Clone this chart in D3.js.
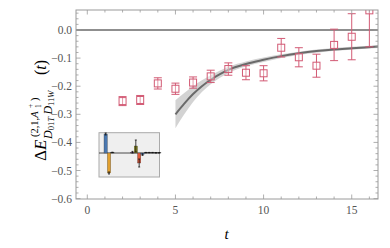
<!DOCTYPE html>
<html>
<head>
<meta charset="utf-8">
<script src="https://cdn.jsdelivr.net/npm/d3@7"></script>
<style>
  body { margin: 0; background: #fff; }
  text { font-family: "Liberation Serif", "DejaVu Serif", serif; }
</style>
</head>
<body>
<svg id="svg_main" width="390" height="248"></svg>
<script>

// Data
const t_vals = [2, 3, 4, 5, 6, 7, 8, 9, 10, 11, 12, 13, 14, 15, 16];
const de_vals = [-0.253, -0.249, -0.19, -0.209, -0.187, -0.165, -0.139, -0.152, -0.154, -0.063, -0.097, -0.127, -0.053, -0.024, 0.07];
const de_errs = [0.016, 0.016, 0.02, 0.02, 0.02, 0.022, 0.022, 0.025, 0.027, 0.033, 0.034, 0.041, 0.056, 0.082, 0.13];

// Fit curve + band
const fit_t = [5, 5.5, 6, 6.5, 7, 7.5, 8, 9, 10, 11, 12, 13, 14, 15, 16.5];
const fit_mid = [-0.30, -0.262, -0.228, -0.2, -0.177, -0.158, -0.142, -0.121, -0.106, -0.093, -0.083, -0.075, -0.069, -0.065, -0.059];
const fit_err = [0.05, 0.038, 0.028, 0.021, 0.016, 0.013, 0.011, 0.009, 0.008, 0.007, 0.006, 0.006, 0.005, 0.005, 0.005];

// Inset: overlap bars
const inset_vals = [0.95, -1.0, 0.03, 0, 0, 0, 0, 0, 0.04, 0.35, -0.5, -0.08, 0.02, 0.02, 0.02, 0.01, 0.01];
const inset_errs = [0.05, 0.05, 0.01, 0, 0, 0, 0, 0, 0.04, 0.3, 0.2, 0.04, 0.01, 0.01, 0.01, 0.01, 0.01];
const inset_cols = ["#4a78b0", "#e2a02e", "#222", "#222", "#222", "#222", "#222", "#222", "#8a4aa0", "#8c8a1e", "#e0583a", "#4a78b0", "#222", "#222", "#222", "#222", "#222"];

const x_ticks = [0, 5, 10, 15];
const y_ticks = [0.0, -0.1, -0.2, -0.3, -0.4, -0.5, -0.6];

const svg = d3.select("#svg_main");

const plot_left = 76, plot_right = 378, plot_top = 10, plot_bottom = 199;
const frame_col = "#9a9a9a",
    label_col = "#555",
    pt_col = "#d25a74";

const x_scale = d3.scaleLinear().domain([-0.641, 16.49]).range([plot_left, plot_right]);
const y_scale = d3.scaleLinear().domain([-0.6014, 0.0712]).range([plot_bottom, plot_top]);

svg.append("clipPath").attr("id", "clip")
    .append("rect")
    .attr("x", plot_left).attr("y", plot_top)
    .attr("width", plot_right - plot_left).attr("height", plot_bottom - plot_top);

const plot = svg.append("g").attr("clip-path", "url(#clip)");

// zero line
plot.append("line")
    .attr("x1", plot_left).attr("x2", plot_right)
    .attr("y1", y_scale(0)).attr("y2", y_scale(0))
    .attr("stroke", "#6a6a6a").attr("stroke-width", 1.5);

// fit band and line
const fit_df = fit_t.map((t, i) => ({t: t, m: fit_mid[i], e: fit_err[i]}));

plot.append("path")
    .datum(fit_df)
    .attr("d", d3.area().x(d => x_scale(d.t)).y0(d => y_scale(d.m - d.e)).y1(d => y_scale(d.m + d.e)).curve(d3.curveMonotoneX))
    .attr("fill", "#c8c8c8").attr("fill-opacity", 0.8);

plot.append("path")
    .datum(fit_df)
    .attr("d", d3.line().x(d => x_scale(d.t)).y(d => y_scale(d.m)).curve(d3.curveMonotoneX))
    .attr("fill", "none").attr("stroke", "#6a6a6a").attr("stroke-width", 2);

// data points
const pts_df = t_vals.map((t, i) => ({t: t, v: de_vals[i], e: de_errs[i]}));
const pts = plot.append("g").attr("class", "points")
    .attr("stroke", pt_col).attr("fill", "none").attr("stroke-width", 1);

pts.selectAll(".eb").data(pts_df).enter().append("path")
    .attr("class", "eb")
    .attr("d", d => {
        const x = x_scale(d.t), y0 = y_scale(d.v - d.e), y1 = y_scale(d.v + d.e);
        return `M ${x},${y0} L ${x},${y1} M ${x-4},${y0} L ${x+4},${y0} M ${x-4},${y1} L ${x+4},${y1}`;
    });

pts.selectAll("rect").data(pts_df).enter().append("rect")
    .attr("x", d => x_scale(d.t) - 3.5)
    .attr("y", d => y_scale(d.v) - 3.5)
    .attr("width", 7).attr("height", 7)
    .attr("fill", "#fff").attr("fill-opacity", 0.4);

// frame
svg.append("rect")
    .attr("x", plot_left).attr("y", plot_top)
    .attr("width", plot_right - plot_left).attr("height", plot_bottom - plot_top)
    .attr("fill", "none").attr("stroke", frame_col).attr("stroke-width", 1);

// ticks, all four sides
const ticks = svg.append("g").attr("stroke", frame_col).attr("stroke-width", 0.8);
d3.range(0, 17, 1).forEach(t => {
    const x = x_scale(t), len = (t % 5 === 0) ? 4.5 : 2.5;
    ticks.append("line").attr("x1", x).attr("x2", x).attr("y1", plot_bottom).attr("y2", plot_bottom - len);
    ticks.append("line").attr("x1", x).attr("x2", x).attr("y1", plot_top).attr("y2", plot_top + len);
});
d3.range(-30, 4, 1).forEach(k => {
    const v = k * 0.02, y = y_scale(v), len = (k % 5 === 0) ? 4.5 : 2.5;
    if (y < plot_top || y > plot_bottom) return;
    ticks.append("line").attr("x1", plot_left).attr("x2", plot_left + len).attr("y1", y).attr("y2", y);
    ticks.append("line").attr("x1", plot_right).attr("x2", plot_right - len).attr("y1", y).attr("y2", y);
});

// tick labels
svg.append("g").selectAll("text").data(y_ticks).enter().append("text")
    .attr("x", plot_left - 4).attr("y", d => y_scale(d) + 4)
    .attr("text-anchor", "end").attr("font-size", 11.5).attr("fill", label_col)
    .text(d => d3.format(".1f")(d).replace("-", "\u2212"));

svg.append("g").selectAll("text").data(x_ticks).enter().append("text")
    .attr("x", d => x_scale(d)).attr("y", plot_bottom + 15)
    .attr("text-anchor", "middle").attr("font-size", 11.5).attr("fill", label_col)
    .text(d => d);

// x label
svg.append("text")
    .attr("x", x_scale(7.9)).attr("y", 239)
    .attr("text-anchor", "middle").attr("font-size", 15).attr("font-style", "italic")
    .text("t");

// y label, built piece by piece (rotated group, x runs bottom->top)
const ylab = svg.append("g").attr("transform", "translate(46,106) rotate(-90)");
ylab.append("text").attr("x", -55).attr("y", 0).attr("font-size", 17)
    .text("\u0394").append("tspan").attr("font-style", "italic").text("E");
// superscript (2,1,A_1^+)
ylab.append("text").attr("x", -31).attr("y", -8.5).attr("font-size", 10.5)
    .text("(2,1,").append("tspan").attr("font-style", "italic").text("A");
ylab.append("text").attr("x", -2).attr("y", -13).attr("font-size", 7.5).text("+");
ylab.append("text").attr("x", -2).attr("y", -5).attr("font-size", 7.5).text("1");
ylab.append("text").attr("x", 5).attr("y", -8.5).attr("font-size", 10.5).text(")");
// subscript D_01T D_11W
const sub = ylab.append("text").attr("x", -33).attr("y", 5.5).attr("font-size", 12);
sub.append("tspan").attr("font-style", "italic").text("D");
sub.append("tspan").attr("font-size", 8.5).attr("dy", 2.5).text("01");
sub.append("tspan").attr("font-size", 8.5).attr("font-style", "italic").text("T");
sub.append("tspan").attr("font-style", "italic").attr("dy", -2.5).attr("dx", 2.5).text("D");
sub.append("tspan").attr("font-size", 8.5).attr("dy", 2.5).text("11");
sub.append("tspan").attr("font-size", 8.5).attr("font-style", "italic").text("W");
ylab.append("text").attr("x", 31).attr("y", 0).attr("font-size", 16)
    .text("(").append("tspan").attr("font-style", "italic").text("t").append("tspan").attr("font-style", "normal").text(")");

// inset
const inset_x0 = 99, inset_x1 = 159.5, inset_y0 = 132.7, inset_y1 = 177;
const inset = svg.append("g").attr("class", "inset");
inset.append("rect")
    .attr("x", inset_x0).attr("y", inset_y0)
    .attr("width", inset_x1 - inset_x0).attr("height", inset_y1 - inset_y0)
    .attr("fill", "#efefef").attr("stroke", "#aaa").attr("stroke-width", 1);

const ix = d3.scaleBand().domain(d3.range(inset_vals.length)).range([104, 104 + 3.35 * inset_vals.length]).padding(0);
const iy = d3.scaleLinear().domain([-1, 1]).range([173, 133]);

inset.append("line")
    .attr("x1", inset_x0).attr("x2", inset_x1).attr("y1", iy(0)).attr("y2", iy(0))
    .attr("stroke", "#222").attr("stroke-width", 0.8);

const inset_df = inset_vals.map((v, i) => ({i: i, v: v, e: inset_errs[i], c: inset_cols[i]}));
inset.selectAll(".ibar").data(inset_df).enter().append("rect")
    .attr("class", "ibar")
    .attr("x", d => ix(d.i)).attr("width", ix.bandwidth())
    .attr("y", d => Math.min(iy(d.v), iy(0)))
    .attr("height", d => Math.abs(iy(d.v) - iy(0)))
    .attr("fill", d => d.c).attr("stroke", "#333").attr("stroke-width", 0.3);

inset.selectAll(".ierr").data(inset_df.filter(d => d.e > 0)).enter().append("path")
    .attr("class", "ierr")
    .attr("d", d => {
        const x = ix(d.i) + ix.bandwidth() / 2, y0 = iy(d.v - d.e), y1 = iy(d.v + d.e);
        return `M ${x},${y0} L ${x},${y1} M ${x-1},${y0} L ${x+1},${y0} M ${x-1},${y1} L ${x+1},${y1}`;
    })
    .attr("stroke", "#111").attr("stroke-width", 0.8).attr("fill", "none");

</script>
</body>
</html>
